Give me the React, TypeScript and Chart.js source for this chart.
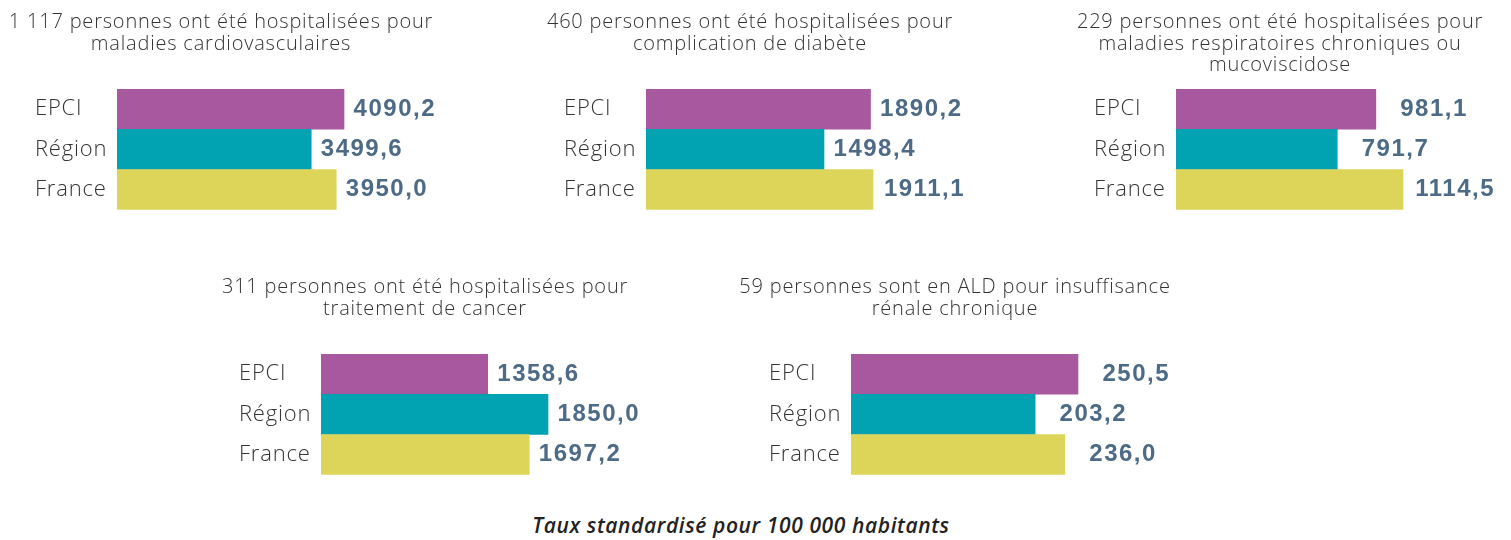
import React, { useEffect, useRef } from "react";
import { Chart, registerables } from "chart.js";

Chart.register(...registerables);

const categories = ["EPCI", "Région", "France"];
const barColors = ["#a7589f", "#01a2b1", "#ddd55a"];

const titles: string[][] = [
  ["1 117 personnes ont été hospitalisées pour", "maladies cardiovasculaires"],
  ["460 personnes ont été hospitalisées pour", "complication de diabète"],
  ["229 personnes ont été hospitalisées pour", "maladies respiratoires chroniques ou", "mucoviscidose"],
  ["311 personnes ont été hospitalisées pour", "traitement de cancer"],
  ["59 personnes sont en ALD pour insuffisance", "rénale chronique"],
];

const cardioValues = [4090.2, 3499.6, 3950.0];
const diabeteValues = [1890.2, 1498.4, 1911.1];
const respiValues = [981.1, 791.7, 1114.5];
const cancerValues = [1358.6, 1850.0, 1697.2];
const renalValues = [250.5, 203.2, 236.0];

const panelValues = [cardioValues, diabeteValues, respiValues, cancerValues, renalValues];

const footerText = "Taux standardisé pour 100 000 habitants";

const FONT = "'Open Sans', 'Noto Sans', sans-serif";

// layout
const panelBarStart = [117, 646, 1176, 321, 851];
const panelTop = [0, 0, 0, 265, 265];
const CANVAS_W = 480;
const CANVAS_H = 223;
const PAD_L = 40;
const PAD_R = 68;
const AXIS_W = 82;
const AREA_W = CANVAS_W - PAD_L - PAD_R - AXIS_W; // 290
const MAX_BAR = 227;
const AREA_TOP = 89;
const TITLE_SIZE = 20;
const TITLE_LINE_PX = 21.5;
const TITLE_FIRST_Y = 22.75;
const TITLE_CENTER_OFFSET = 104;

const spacingPlugin = {
  id: "textSpacing",
  beforeDraw(chart: any) {
    (chart.ctx as any).letterSpacing = "0.8px";
  },
  afterDraw(chart: any) {
    (chart.ctx as any).letterSpacing = "0px";
  },
};

const panelTitlePlugin = {
  id: "panelTitle",
  afterDraw(chart: any, _args: any, opts: any) {
    const lines: string[] = opts.lines || [];
    const ctx = chart.ctx;
    ctx.save();
    ctx.font = `300 ${TITLE_SIZE}px ${FONT}`;
    (ctx as any).letterSpacing = "0.8px";
    ctx.fillStyle = "#333333";
    ctx.textAlign = "center";
    ctx.textBaseline = "middle";
    const cx = chart.chartArea.left + TITLE_CENTER_OFFSET;
    lines.forEach((line, i) => {
      ctx.fillText(line, cx, TITLE_FIRST_Y + i * TITLE_LINE_PX);
    });
    ctx.restore();
  },
};

const valueLabelPlugin = {
  id: "valueLabels",
  afterDatasetsDraw(chart: any) {
    const ctx = chart.ctx;
    const meta = chart.getDatasetMeta(0);
    const data = chart.data.datasets[0].data as number[];
    ctx.save();
    ctx.font = "bold 24px 'Liberation Sans', Arial, sans-serif";
    (ctx as any).letterSpacing = "1.5px";
    ctx.fillStyle = "#4d6a86";
    ctx.textAlign = "right";
    ctx.textBaseline = "middle";
    meta.data.forEach((bar: any, i: number) => {
      const label = data[i].toFixed(1).replace(".", ",");
      ctx.fillText(label, bar.x + 92, bar.y);
    });
    ctx.restore();
  },
};

function Panel({ index }: { index: number }) {
  const ref = useRef<HTMLCanvasElement>(null);
  useEffect(() => {
    if (!ref.current) return;
    const values = panelValues[index];
    const maxVal = Math.max(...values);
    const chart = new Chart(ref.current, {
      type: "bar",
      data: {
        labels: categories,
        datasets: [
          {
            data: values,
            backgroundColor: barColors,
            borderWidth: 0,
            barPercentage: 1,
            categoryPercentage: 1,
          },
        ],
      },
      options: {
        indexAxis: "y",
        animation: false,
        responsive: false,
        layout: { padding: { left: PAD_L, right: PAD_R, top: AREA_TOP, bottom: 0 } },
        plugins: {
          legend: { display: false },
          tooltip: { enabled: false },
          title: { display: false },
          panelTitle: { lines: titles[index] },
        } as any,
        scales: {
          x: {
            display: false,
            min: 0,
            max: (maxVal * AREA_W) / MAX_BAR,
          },
          y: {
            grid: { display: false },
            border: { display: false },
            ticks: {
              crossAlign: "far",
              padding: 0,
              color: "#333333",
              font: { family: FONT, size: 22, weight: "300" },
            },
            afterFit: (scale: any) => {
              scale.width = AXIS_W;
            },
          },
        },
      },
      plugins: [spacingPlugin, valueLabelPlugin, panelTitlePlugin],
    });
    return () => chart.destroy();
  }, [index]);
  return (
    <div
      style={{
        position: "absolute",
        left: panelBarStart[index] - PAD_L - AXIS_W,
        top: panelTop[index],
        width: CANVAS_W,
        height: CANVAS_H,
      }}
    >
      <canvas ref={ref} width={CANVAS_W} height={CANVAS_H} />
    </div>
  );
}

export default function App() {
  return (
    <div
      style={{
        position: "absolute",
        left: 0,
        top: 0,
        width: 1511,
        height: 540,
        background: "#ffffff",
        overflow: "hidden",
      }}
    >
      {panelValues.map((_, i) => (
        <Panel key={i} index={i} />
      ))}
      <div
        style={{
          position: "absolute",
          left: 0,
          width: 1482,
          top: 511,
          textAlign: "center",
          fontFamily: FONT,
          fontStyle: "italic",
          fontWeight: 600,
          fontSize: 21,
          letterSpacing: "0.6px",
          color: "#222222",
        }}
      >
        {footerText}
      </div>
    </div>
  );
}
